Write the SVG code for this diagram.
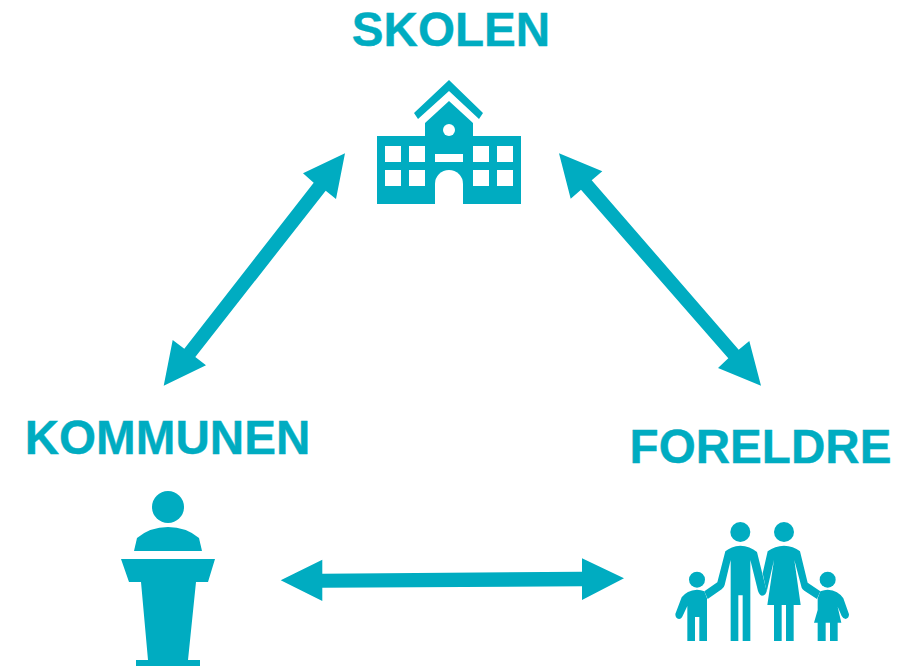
<svg xmlns="http://www.w3.org/2000/svg" width="913" height="666" viewBox="0 0 913 666">
<style>
.t{font-family:"Liberation Sans",Arial,sans-serif;font-weight:700;font-size:47.6px;fill:#00acc1;stroke:#00acc1;stroke-width:.4px}
.f{fill:#00acc1;stroke:none}
.w{fill:#fff;stroke:none}
.a{fill:#00acc1;stroke:none}
</style>
<rect width="913" height="666" fill="#fff"/>
<g id="connectors">
<polygon class="a" points="345,153.3 336,199 325.7,190.7 195.3,357 206,365.3 163.7,385.7 172.7,340 184.3,348.7 313.7,182.7 303,173.3"/>
<polygon class="a" points="559,153.3 602.3,171.3 591.7,180.3 738.7,349.7 749.3,341 761,385.7 718,368 728.3,358.3 581,189.7 570.7,198.7"/>
<polygon class="a" points="280.7,580.3 322.3,559.7 322.3,573.7 582,571.7 582,558.3 624,578.3 582,600 582,586.3 322.3,587.7 322.3,601"/>
</g>
<g id="skolen">
<text class="t" x="451" y="46" text-anchor="middle">SKOLEN</text>
<polygon class="f" points="449,80 483,113 479,119 449,91 418,119 414,113"/>
<polygon class="f" points="449,101 473,123 473,136 521,136 521,204 377,204 377,136 425,136 425,123"/>
<path class="w" d="M435 204V184a14 14 0 0 1 28 0V204Z"/>
<circle class="w" cx="449" cy="130" r="6"/>
<rect class="w" x="385" y="146" width="16" height="16"/><rect class="w" x="409" y="146" width="16" height="16"/>
<rect class="w" x="473" y="146" width="16" height="16"/><rect class="w" x="497" y="146" width="16" height="16"/>
<rect class="w" x="385" y="170" width="16" height="16"/><rect class="w" x="409" y="170" width="16" height="16"/>
<rect class="w" x="473" y="170" width="16" height="16"/><rect class="w" x="497" y="170" width="16" height="16"/>
<rect class="w" x="435" y="154" width="28" height="8"/>
</g>
<g id="kommunen">
<text class="t" x="167.500" y="454" text-anchor="middle">KOMMUNEN</text>
<circle class="f" cx="168" cy="507" r="16"/>
<path class="f" d="M134 551L137 538Q150 527 168 527Q186 527 199 538L202 551Z"/>
<polygon class="f" points="121,559 215,559 208,582 196,582 188,660 200,660 200,666 136,666 136,660 148,660 141,582 129,582"/>
</g>
<g id="foreldre">
<text class="t" x="760.500" y="463" text-anchor="middle">FORELDRE</text>
<g transform="translate(665 510) scale(.33333)">
<circle class="f" cx="226" cy="66" r="30"/><circle class="f" cx="357" cy="66" r="30"/>
<circle class="f" cx="96" cy="209" r="24"/><circle class="f" cx="488" cy="209" r="24"/>
<path class="f" d="M226 107Q198 109 181 124L157 217L118 244L128 267L170 238Q177 233 179 225L197 150V393H220V256H233V393H256V150L279 243Q284 257 292 257Q303 255 305 243L276 126Q255 108 226 107Z"/>
<path class="f" d="M357 107Q330 108 308 124L293 190L305 245L327 150L307 285H327V393H350V285H363V393H386V285H407L388 150L410 233Q412 238 418 242L456 267L466 244L428 218L405 124Q385 108 357 107Z"/>
<path class="f" d="M96 239Q65 241 50 262L31 312Q31 326 42 327Q50 327 54 316L67 288V393H90V321H103V393H126V265L118 244Q108 239 96 239Z"/>
<path class="f" d="M488 239Q478 239 466 244L458 265V300L447 338H458V393H482V338H495V393H518V338H529L518 290L530 318Q535 327 542 327Q552 325 552 313L535 265Q520 241 488 239Z"/>
</g>
</g>
</svg>
